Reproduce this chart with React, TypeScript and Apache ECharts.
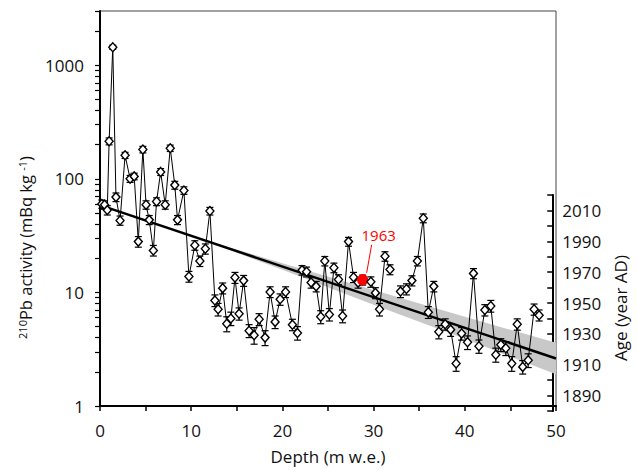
import React, { useEffect, useRef } from "react";
import * as echarts from "echarts";

// Depth (m w.e.) of each sample
const depths = [
  0.2, 0.5, 0.8, 1.0, 1.4, 1.75, 2.2, 2.75, 3.3, 3.75,
  4.2, 4.7, 5.05, 5.4, 5.85, 6.2, 6.65, 7.15, 7.7, 8.2,
  8.5, 9.2, 9.75, 10.4, 10.95, 11.55, 12.05, 12.6, 12.95, 13.45,
  13.9, 14.35, 14.8, 15.25, 15.75, 16.35, 16.9, 17.45, 18.1, 18.65,
  19.2, 19.75, 20.35, 21.1, 21.65, 22.15, 22.65, 23.15, 23.7, 24.2,
  24.65, 25.15, 25.65, 26.15, 26.6, 27.25, 27.8, 28.3, 28.8, 29.7,
  30.2, 30.65, 31.25, 31.8, 32.95, 33.6, 34.2, 34.8, 35.45, 36.0,
  36.6, 37.15, 37.85, 38.45, 39.05, 39.65, 40.3, 40.95, 41.55, 42.2,
  42.85, 43.4, 43.95, 44.5, 45.15, 45.75, 46.35, 46.95, 47.6, 48.15,
];
// 210Pb activity (mBq kg-1)
const activities = [
  60, 59, 53, 214, 1440, 69, 43, 161, 100, 105,
  28, 181, 59, 43.5, 23.4, 63, 115, 59, 186, 88,
  43.5, 79, 13.8, 26, 18.9, 24.2, 52, 8.5, 7.1, 10.9,
  5.3, 5.9, 13.5, 6.5, 12.7, 4.6, 4.2, 5.8, 4.0, 10.1,
  5.5, 8.7, 10.1, 5.2, 4.4, 15.7, 15.2, 12.2, 11.3, 6.1,
  18.9, 6.4, 16.5, 13.0, 6.2, 28, 13.6, 12.2, 12.9, 12.4,
  9.9, 7.1, 20.8, 15.9, 10.2, 10.7, 12.7, 18.9, 45, 6.7,
  11.3, 4.5, 5.25, 4.7, 2.37, 4.35, 3.64, 14.7, 3.36, 7.0,
  7.6, 2.83, 3.46, 3.23, 2.37, 5.25, 2.21, 2.53, 7.1, 6.3,
];
// Analytical uncertainty (mBq kg-1)
const errors = [
  5, 5, 5, 15, 60, 6, 4, 10, 7, 7,
  3, 12, 5, 4, 2.5, 5, 8, 5, 12, 7,
  4, 6, 1.5, 2.5, 2, 2.5, 4, 1, 0.9, 1.2,
  0.8, 0.8, 1.5, 0.8, 1.4, 0.6, 0.7, 0.7, 0.6, 1.1,
  0.7, 1, 1.1, 0.6, 0.6, 1.5, 1.5, 1.3, 1.2, 0.8,
  1.8, 0.8, 1.6, 1.3, 0.8, 2.5, 1.4, 1.3, 1.3, 1.3,
  1.1, 0.9, 2, 1.6, 1.2, 1.2, 1.3, 1.8, 4, 0.8,
  1.2, 0.6, 0.6, 0.6, 0.35, 0.55, 0.5, 1.5, 0.45, 0.8,
  0.9, 0.4, 0.45, 0.45, 0.35, 0.6, 0.3, 0.35, 0.8, 0.7,
];
const gapAfterDepth = 31.8;

// 1963 reference horizon
const refDepth = 28.8;
const refActivity = 12.9;
const refLabel = "1963";

// Exponential fit and its uncertainty band
const fitDepths = [0, 50];
const fitValues = [58.6, 2.62];
const bandDepths = [12, 20, 30, 40, 50];
const bandUpper = [28.1, 18.1, 10.5, 6.1, 3.6];
const bandLower = [27.5, 15.8, 7.8, 3.9, 1.9];

// Axes
const yLabelValues = [1, 10, 100, 1000];
const yTickValues = [
  1, 2, 3, 4, 5, 6, 7, 8, 9,
  10, 20, 30, 40, 50, 60, 70, 80, 90,
  100, 200, 300, 400, 500, 600, 700, 800, 900,
  1000, 2000, 3000,
];
const xTickValues = [0, 5, 10, 15, 20, 25, 30, 35, 40, 45, 50];
const ageMin = 1880;
const ageMax = 2020;
const ageLabelValues = [1890, 1910, 1930, 1950, 1970, 1990, 2010];

const FONT = "'Open Sans', sans-serif";
const TXT = "#111";
const plain = (v: number) => String(v);

export default function App() {
  const ref = useRef<HTMLDivElement>(null);

  useEffect(() => {
    if (!ref.current) return;
    const chart = echarts.init(ref.current, undefined, { renderer: "svg" });

    const lineData: any[] = [];
    depths.forEach((d, i) => {
      const v = activities[i];
      if (d === refDepth) {
        lineData.push({
          value: [d, v],
          symbol: "circle",
          symbolSize: 10,
          itemStyle: { color: "#ff0000", borderColor: "#ff0000" },
        });
      } else {
        lineData.push([d, v]);
      }
      if (d === gapAfterDepth && i < depths.length - 1) {
        lineData.push([(d + depths[i + 1]) / 2, "-"]);
      }
    });

    const errData = depths.map((d, i) => [d, activities[i], errors[i]]);

    const option: any = {
      animation: false,
      grid: [
        {
          left: 100,
          right: 81,
          top: 11,
          bottom: 59,
          show: true,
          borderColor: "#444",
          borderWidth: 1,
          backgroundColor: "transparent",
        },
        { left: 100, right: 81, top: 195, bottom: 59 },
      ],
      xAxis: [
        {
          type: "value",
          gridIndex: 0,
          min: 0,
          max: 50,
          interval: 10,
          name: "Depth (m w.e.)",
          nameLocation: "middle",
          nameGap: 42,
          nameTextStyle: { fontSize: 17, fontFamily: FONT, color: TXT },
          axisLine: { show: true, onZero: false, lineStyle: { color: "#000", width: 2 } },
          axisTick: {
            show: true,
            customValues: xTickValues,
            length: 5,
            lineStyle: { color: "#000", width: 1.5 },
          },
          axisLabel: { fontSize: 17, fontFamily: FONT, color: TXT, margin: 16, formatter: plain },
          splitLine: { show: false },
        },
        {
          type: "value",
          gridIndex: 1,
          min: 0,
          max: 50,
          show: false,
        },
      ],
      yAxis: [
        {
          type: "log",
          logBase: 10,
          gridIndex: 0,
          min: 1,
          max: 3000,
          name: "{sup|210}Pb activity (mBq kg {sup|-1})",
          nameLocation: "middle",
          nameRotate: 90,
          nameGap: 56,
          nameTextStyle: {
            fontSize: 16.5,
            fontFamily: FONT,
            color: TXT,
            padding: [0, 78, 0, 0],
            rich: {
              sup: { fontSize: 11, fontFamily: FONT, color: TXT, verticalAlign: "top" },
            },
          },
          axisLine: { show: true, onZero: false, lineStyle: { color: "#000", width: 2 } },
          axisTick: {
            show: true,
            customValues: yTickValues,
            length: 5,
            lineStyle: { color: "#000", width: 1.2 },
          },
          axisLabel: {
            customValues: yLabelValues,
            fontSize: 17,
            fontFamily: FONT,
            color: TXT,
            margin: 16,
            formatter: plain,
          },
          splitLine: { show: false },
          minorTick: { show: false },
        },
        {
          type: "value",
          gridIndex: 1,
          position: "right",
          min: ageMin,
          max: ageMax,
          interval: 10,
          name: "Age (year AD)",
          nameLocation: "middle",
          nameRotate: 90,
          nameGap: 58,
          nameTextStyle: { fontSize: 17, fontFamily: FONT, color: TXT, padding: [0, 10, 0, 0] },
          axisLine: { show: true, onZero: false, lineStyle: { color: "#000", width: 2 } },
          axisTick: { show: true, inside: true, length: 6, lineStyle: { color: "#000", width: 1.5 } },
          axisLabel: {
            customValues: ageLabelValues,
            fontSize: 17,
            fontFamily: FONT,
            color: TXT,
            margin: 9,
            formatter: plain,
          },
          splitLine: { show: false },
        },
      ],
      series: [
        {
          type: "custom",
          name: "band",
          xAxisIndex: 0,
          yAxisIndex: 0,
          z: 1,
          silent: true,
          data: [[bandDepths[0], bandLower[0]]],
          renderItem: (params: any, api: any) => {
            const pts: number[][] = [];
            bandDepths.forEach((d, i) => pts.push(api.coord([d, bandUpper[i]])));
            for (let i = bandDepths.length - 1; i >= 0; i--) {
              pts.push(api.coord([bandDepths[i], bandLower[i]]));
            }
            return {
              type: "polygon",
              shape: { points: pts },
              style: { fill: "#c8c8c8", stroke: "none" },
            };
          },
        },
        {
          type: "line",
          name: "fit",
          xAxisIndex: 0,
          yAxisIndex: 0,
          z: 2,
          symbol: "none",
          silent: true,
          data: fitDepths.map((d, i) => [d, fitValues[i]]),
          lineStyle: { color: "#000", width: 2.5 },
        },
        {
          type: "custom",
          name: "errors",
          xAxisIndex: 0,
          yAxisIndex: 0,
          z: 3,
          silent: true,
          encode: { x: 0, y: 1 },
          data: errData,
          renderItem: (params: any, api: any) => {
            const x = api.value(0);
            const v = api.value(1);
            const e = api.value(2);
            const top = api.coord([x, v + e]);
            const bot = api.coord([x, v - e]);
            const w = 3.5;
            const st = { stroke: "#000", lineWidth: 1.2 };
            return {
              type: "group",
              children: [
                { type: "line", shape: { x1: top[0], y1: top[1], x2: bot[0], y2: bot[1] }, style: st },
                { type: "line", shape: { x1: top[0] - w, y1: top[1], x2: top[0] + w, y2: top[1] }, style: st },
                { type: "line", shape: { x1: bot[0] - w, y1: bot[1], x2: bot[0] + w, y2: bot[1] }, style: st },
              ],
            };
          },
        },
        {
          type: "line",
          name: "Pb210",
          xAxisIndex: 0,
          yAxisIndex: 0,
          z: 4,
          data: lineData,
          connectNulls: false,
          symbol: "diamond",
          symbolSize: [8, 9],
          showAllSymbol: true,
          lineStyle: { color: "#000", width: 1 },
          itemStyle: { color: "#fff", borderColor: "#000", borderWidth: 1.4 },
        },
        {
          type: "custom",
          name: "annotation",
          xAxisIndex: 0,
          yAxisIndex: 0,
          z: 5,
          silent: true,
          data: [[refDepth, refActivity]],
          renderItem: (params: any, api: any) => {
            const p = api.coord([api.value(0), api.value(1)]);
            return {
              type: "group",
              children: [
                {
                  type: "line",
                  shape: { x1: p[0] + 4, y1: p[1] - 7, x2: p[0] + 9, y2: p[1] - 35 },
                  style: { stroke: "#ff0000", lineWidth: 1 },
                },
                {
                  type: "text",
                  x: p[0] + 16,
                  y: p[1] - 45,
                  style: {
                    text: refLabel,
                    fill: "#ff0000",
                    font: `15px ${FONT}`,
                    textAlign: "center",
                    textVerticalAlign: "middle",
                  },
                },
              ],
            };
          },
        },
      ],
    };

    chart.setOption(option);
    return () => chart.dispose();
  }, []);

  return (
    <div
      ref={ref}
      style={{ position: "fixed", left: 0, top: 0, width: 637, height: 470, background: "#fff" }}
    />
  );
}
